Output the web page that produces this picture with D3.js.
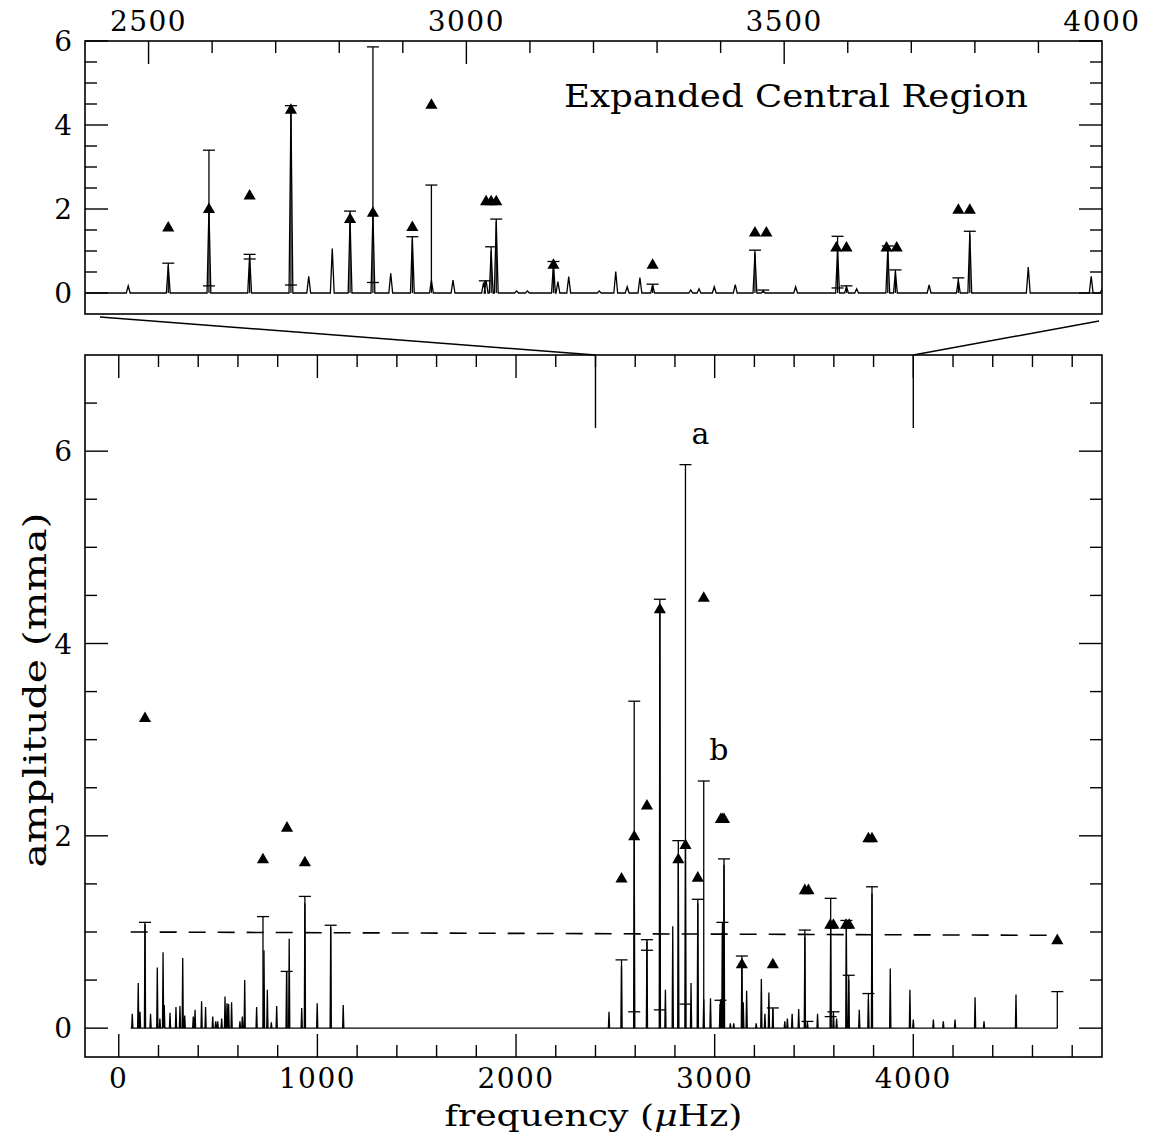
<!DOCTYPE html>
<html>
<head>
<meta charset="utf-8">
<script src="https://cdn.jsdelivr.net/npm/d3@7"></script>
<style>
  body { margin: 0; background: #fff; }
  svg { display: block; }
  text { font-family: "DejaVu Serif", "Liberation Serif", serif; fill: #000; }
</style>
</head>
<body>
<svg id="chart" width="1154" height="1136"></svg>
<script>
// Spectral peaks: [frequency (μHz), amplitude (mma)]
const peaks = [
  [68,0.15],[98,0.47],[107,0.17],[132,1.08],[160,0.15],[194,0.63],[207,0.10],[223,0.79],
  [229,0.24],[258,0.16],[288,0.22],[308,0.23],[322,0.73],[332,0.13],[375,0.12],[384,0.19],
  [417,0.28],[437,0.22],[473,0.12],[488,0.07],[498,0.07],[518,0.10],[535,0.33],[545,0.26],
  [553,0.25],[568,0.27],[610,0.07],[622,0.12],[634,0.50],[694,0.22],[731,0.81],[748,0.40],
  [768,0.06],[795,0.23],[845,0.59],[858,0.93],[921,0.21],[937,1.30],[999,0.26],[1067,1.05],
  [1130,0.24],
  [2468,0.17],[2531,0.65],[2595,2.00],[2659,0.90],[2724,4.38],[2752,0.40],[2789,1.06],
  [2817,1.75],[2853,1.90],[2881,0.47],[2915,1.30],[2945,0.30],[2979,0.31],[3027,0.25],
  [3031,0.30],[3039,1.00],[3047,1.70],[3079,0.05],[3096,0.05],[3137,0.70],[3144,0.27],
  [3161,0.39],[3209,0.05],[3235,0.51],[3253,0.15],[3273,0.37],[3293,0.20],[3353,0.07],
  [3366,0.10],[3390,0.15],[3423,0.20],[3454,0.95],[3467,0.05],[3518,0.15],[3584,1.05],
  [3598,0.15],[3614,0.10],[3663,1.05],[3675,0.50],[3728,0.19],[3774,0.30],[3792,1.40],
  [3884,0.62],[3983,0.40],
  [4000,0.09],[4101,0.09],[4151,0.07],[4210,0.09],[4311,0.32],[4356,0.07],[4517,0.35]
];

// Amplitude ranges: [frequency, upper cap, lower cap (optional)]
const ranges = [
  [132,1.10],[726,1.16],[845,0.59],[937,1.37],[1067,1.07],
  [2531,0.71],[2595,3.40,0.17],[2659,0.92,0.81],[2724,4.46,0.19],[2817,1.95],
  [2853,5.86,0.25],[2915,1.34],[2945,2.57],[3029,0.29],[3039,1.10],[3047,1.76],
  [3137,0.75],[3293,0.21],[3454,1.02],[3467,0.07],[3584,1.35,0.12],[3598,0.17],
  [3663,1.12],[3675,0.55],[3774,0.36],[3792,1.47],[4725,0.38]
];

// Triangle markers: [frequency, amplitude]
const triangles = [
  [132,3.22],[726,1.75],[847,2.08],[937,1.72],
  [2531,1.55],[2595,1.99],[2659,2.31],[2724,4.35],[2817,1.75],[2853,1.90],[2915,1.56],
  [2945,4.47],[3031,2.17],[3039,2.17],[3047,2.17],[3137,0.66],[3293,0.66],[3454,1.43],
  [3472,1.43],[3582,1.07],[3598,1.07],[3661,1.07],[3677,1.07],[3774,1.97],[3792,1.97],
  [4725,0.91]
];

// Letters naming two of the ranges: [letter, frequency]
const rangeLabels = [["a", 2853], ["b", 2945]];

// Detection threshold (dashed): [frequency, amplitude]
const threshold = [[60, 1.00], [4725, 0.965]];

// Frequency span of the spectrum baseline
const spectrumSpan = [60, 4725];

// Window shown in the expanded panel
const zoomWindow = [2400, 4000];

// Tick labels
const fullFreqTicks = [0, 1000, 2000, 3000, 4000];
const zoomFreqTicks = [2500, 3000, 3500, 4000];
const ampTicks = [0, 2, 4, 6];

const svg = d3.select("#chart");
const L = 85, R = 1102;

const xZoom = d3.scaleLinear().domain(zoomWindow).range([L, R]);
const yZoom = d3.scaleLinear().domain([-0.5, 6]).range([314, 41]);
const xFull = d3.scaleLinear().domain([-170, 4950]).range([L, R]);
const yFull = d3.scaleLinear().domain([-0.3, 7]).range([1057, 355]);

const sorted = peaks.slice().sort((a, b) => a[0] - b[0]);
const halfWidth = 3;
const specPts = [[spectrumSpan[0], 0]];
sorted.forEach(([f, a]) => {
  specPts.push([f - halfWidth, 0], [f, a], [f + halfWidth, 0]);
});
specPts.push([spectrumSpan[1], 0]);

const capHalf = 6;

function drawPanel(id, x, y, opts) {
  const g = svg.append("g");
  const [x0, x1] = x.range();
  const [yb, yt] = y.range();

  g.append("clipPath").attr("id", id)
    .append("rect").attr("x", x0).attr("y", yt).attr("width", x1 - x0).attr("height", yb - yt);
  const body = g.append("g").attr("clip-path", `url(#${id})`);

  if (opts.threshold) {
    body.append("path").datum(threshold)
      .attr("d", d3.line().x(d => x(d[0])).y(d => y(d[1])))
      .attr("fill", "none").attr("stroke", "#000").attr("stroke-width", 1.6)
      .attr("stroke-dasharray", "17,12");
  }

  body.append("path").datum(specPts)
    .attr("d", d3.line().x(d => x(d[0])).y(d => y(d[1])))
    .attr("fill", "none").attr("stroke", "#000").attr("stroke-width", 1.3)
    .attr("stroke-linejoin", "miter");

  const rg = body.append("g").attr("stroke", "#000").attr("stroke-width", 1.3).attr("fill", "none");
  ranges.forEach(([f, hi, lo]) => {
    const cx = x(f);
    rg.append("line").attr("x1", cx).attr("x2", cx).attr("y1", y(0)).attr("y2", y(hi));
    rg.append("line").attr("x1", cx - capHalf).attr("x2", cx + capHalf).attr("y1", y(hi)).attr("y2", y(hi));
    if (lo !== undefined) {
      rg.append("line").attr("x1", cx - capHalf).attr("x2", cx + capHalf).attr("y1", y(lo)).attr("y2", y(lo));
    }
  });

  const tri = d3.symbol(d3.symbolTriangle, 64);
  body.append("g").selectAll("path").data(triangles).join("path")
    .attr("d", tri)
    .attr("transform", d => `translate(${x(d[0])},${y(d[1])})`)
    .attr("fill", "#000");

  // frame
  g.append("rect").attr("x", x0).attr("y", yt).attr("width", x1 - x0).attr("height", yb - yt)
    .attr("fill", "none").attr("stroke", "#000").attr("stroke-width", 1.6);

  const tk = g.append("g").attr("stroke", "#000").attr("stroke-width", 1.4);
  // amplitude ticks, left and right
  opts.yTicks.forEach(v => {
    const len = ampTicks.includes(v) ? 23 : 12;
    tk.append("line").attr("x1", x0).attr("x2", x0 + len).attr("y1", y(v)).attr("y2", y(v));
    tk.append("line").attr("x1", x1).attr("x2", x1 - len).attr("y1", y(v)).attr("y2", y(v));
  });
  // frequency ticks
  opts.xTicks.forEach(v => {
    const len = opts.xMajor.includes(v) ? 23 : 12;
    if (opts.xTop) tk.append("line").attr("x1", x(v)).attr("x2", x(v)).attr("y1", yt).attr("y2", yt + len);
    if (opts.xBottom) tk.append("line").attr("x1", x(v)).attr("x2", x(v)).attr("y1", yb).attr("y2", yb - len);
  });

  // amplitude labels
  g.append("g").selectAll("text").data(ampTicks).join("text")
    .attr("x", x0 - 13).attr("y", d => y(d))
    .attr("dy", "0.36em")
    .attr("text-anchor", "end").attr("font-size", 28)
    .text(d => d);

  return { g, body };
}

// Expanded central region (upper panel)
const upperPanel = drawPanel("clipZoom", xZoom, yZoom, {
  yTicks: d3.range(0, 6.01, 0.5),
  xTicks: d3.range(2500, 4000, 100),
  xMajor: [2500, 3000, 3500],
  xTop: true, xBottom: false, threshold: false
});
upperPanel.g.append("g").selectAll("text").data(zoomFreqTicks).join("text")
  .attr("x", d => xZoom(d)).attr("y", yZoom.range()[1] - 10)
  .attr("text-anchor", "middle").attr("font-size", 28).attr("letter-spacing", "1.5px")
  .text(d => d);
upperPanel.g.append("text")
  .attr("x", 564).attr("y", 107)
  .attr("font-size", 32).attr("textLength", 464).attr("lengthAdjust", "spacingAndGlyphs")
  .text("Expanded Central Region");

// Full spectrum (lower panel)
const lowerPanel = drawPanel("clipFull", xFull, yFull, {
  yTicks: d3.range(0, 7, 0.5),
  xTicks: d3.range(0, 4950, 200),
  xMajor: fullFreqTicks,
  xTop: true, xBottom: true, threshold: true
});
lowerPanel.g.append("g").selectAll("text").data(fullFreqTicks).join("text")
  .attr("x", d => xFull(d)).attr("y", yFull.range()[0] + 31)
  .attr("text-anchor", "middle").attr("font-size", 28).attr("letter-spacing", "1.5px")
  .text(d => d);

// letters above the named ranges
rangeLabels.forEach(([t, f]) => {
  const r = ranges.find(d => d[0] === f);
  lowerPanel.g.append("text")
    .attr("x", xFull(f) + 15).attr("y", yFull(r[1]) - 21)
    .attr("text-anchor", "middle").attr("font-size", 30)
    .text(t);
});

// markers showing the expanded window on the full spectrum
const conn = svg.append("g").attr("stroke", "#000").attr("stroke-width", 1.4);
zoomWindow.forEach(f => {
  conn.append("line")
    .attr("x1", xFull(f)).attr("x2", xFull(f))
    .attr("y1", yFull(7)).attr("y2", yFull(6.24));
});
conn.append("line")
  .attr("x1", xZoom(zoomWindow[0]) + 15).attr("y1", yZoom(-0.5) + 3)
  .attr("x2", xFull(zoomWindow[0])).attr("y2", yFull(7));
conn.append("line")
  .attr("x1", xZoom(zoomWindow[1]) - 3).attr("y1", yZoom(-0.5) + 7)
  .attr("x2", xFull(zoomWindow[1])).attr("y2", yFull(7));

// axis titles
const xTitle = svg.append("text")
  .attr("x", (L + R) / 2).attr("y", 1126)
  .attr("text-anchor", "middle").attr("font-size", 30)
  .attr("textLength", 298).attr("lengthAdjust", "spacingAndGlyphs");
xTitle.append("tspan").text("frequency (");
xTitle.append("tspan").attr("font-style", "italic").text("μ");
xTitle.append("tspan").text("Hz)");

svg.append("text")
  .attr("transform", "translate(46,690) rotate(-90)")
  .attr("text-anchor", "middle").attr("font-size", 32)
  .attr("textLength", 355).attr("lengthAdjust", "spacingAndGlyphs")
  .text("amplitude (mma)");
</script>
</body>
</html>
